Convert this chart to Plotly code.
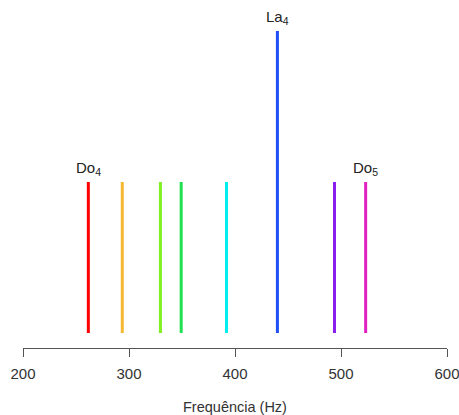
import plotly.graph_objects as go

# Frequencies (Hz) of the notes in the octave C4–C5
notes = ["Do4", "Re4", "Mi4", "Fa4", "Sol4", "La4", "Si4", "Do5"]
freqs = [261.63, 293.66, 329.63, 349.23, 392.00, 440.00, 493.88, 523.25]
heights = [1, 1, 1, 1, 1, 2, 1, 1]
colors = ["#FF0000", "#F5B830", "#80F020", "#20E050", "#00EEEE", "#1F4FF5", "#8A1FF0", "#E020C0"]

# Which notes get a text label, and how it is written
labelled = {"Do4": "Do<sub>4</sub>", "La4": "La<sub>4</sub>", "Do5": "Do<sub>5</sub>"}

ticks = [200, 300, 400, 500, 600]
FONT = "Liberation Sans, Arial, sans-serif"

fig = go.Figure()
for name, f, h, c in zip(notes, freqs, heights, colors):
    fig.add_trace(go.Scatter(
        x=[f, f], y=[0, h], mode="lines",
        line=dict(color=c, width=3),
        hoverinfo="skip", showlegend=False,
    ))
    if name in labelled:
        fig.add_annotation(
            x=f, y=h, text=labelled[name], showarrow=False,
            xanchor="center", yanchor="bottom", yshift=2,
            font=dict(family=FONT, size=15, color="#222222"),
        )

# Axis title placed below the tick labels
fig.add_annotation(
    x=0.5, y=0, xref="paper", yref="paper", text="Frequência (Hz)",
    showarrow=False, xanchor="center", yanchor="middle", yshift=-59,
    font=dict(family=FONT, size=14.5, color="#333333"),
)

fig.update_layout(
    width=459, height=415,
    margin=dict(l=23, r=12, t=10, b=67, autoexpand=False),
    paper_bgcolor="white", plot_bgcolor="white",
    font=dict(family=FONT, size=15, color="#333333"),
    xaxis=dict(
        range=[200, 600], tickvals=ticks,
        showline=True, linecolor="#555555", linewidth=1,
        ticks="outside", ticklen=8, tickcolor="#555555", tickwidth=1,
        ticklabelstandoff=4, ticklabeloverflow="allow",
        showgrid=False, zeroline=False, automargin=False,
        fixedrange=True,
    ),
    yaxis=dict(range=[-0.0993, 2.139], visible=False, fixedrange=True),
)

fig.write_html("out.html")
